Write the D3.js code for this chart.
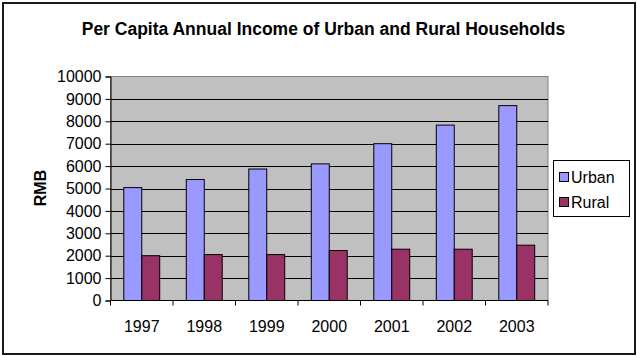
<!DOCTYPE html>
<html>
<head>
<meta charset="utf-8">
<script src="https://cdn.jsdelivr.net/npm/d3@7/dist/d3.min.js"></script>
<style>
  html, body { margin: 0; padding: 0; background: #fff; }
  svg { display: block; font-family: "Liberation Sans", Arial, sans-serif; }
</style>
</head>
<body>
<svg id="chart" width="637" height="356"></svg>
<script>
// Per capita annual income (RMB)
const years = ["1997", "1998", "1999", "2000", "2001", "2002", "2003"];
const seriesNames = ["Urban", "Rural"];
const urban = [5040, 5400, 5870, 6100, 7000, 7830, 8700];
const rural = [2000, 2050, 2050, 2230, 2290, 2290, 2470];
const yTicks = [0, 1000, 2000, 3000, 4000, 5000, 6000, 7000, 8000, 9000, 10000];
const colors = ["#9999ff", "#993366"];

const svg = d3.select("#chart");

// chart frame
svg.append("rect")
  .attr("x", 3).attr("y", 3).attr("width", 632).attr("height", 351)
  .attr("fill", "#fff").attr("stroke", "#1a1a1a").attr("stroke-width", 2);

const plot = { left: 110.5, right: 548, top: 76.5, bottom: 300.5 };

const x = d3.scaleBand().domain(years).range([plot.left, plot.right]).padding(0);
const x1 = d3.scaleBand().domain(seriesNames).range([0, x.bandwidth()])
  .paddingInner(0).paddingOuter(0.74);
const y = d3.scaleLinear().domain([0, 10000]).range([plot.bottom, plot.top]);

// plot area
svg.append("rect")
  .attr("x", plot.left).attr("y", plot.top)
  .attr("width", plot.right - plot.left).attr("height", plot.bottom - plot.top)
  .attr("fill", "#c0c0c0").attr("stroke", "#808080").attr("stroke-width", 1);

// gridlines
svg.append("g").selectAll("line")
  .data(yTicks.filter(d => d > 0 && d < 10000))
  .join("line")
  .attr("x1", plot.left).attr("x2", plot.right)
  .attr("y1", d => Math.round(y(d)) + 0.5).attr("y2", d => Math.round(y(d)) + 0.5)
  .attr("stroke", "#000").attr("stroke-width", 1);

// bars
const rows = years.map((yr, i) => ({ year: yr, values: [urban[i], rural[i]] }));
const groups = svg.append("g").selectAll("g")
  .data(rows).join("g")
  .attr("transform", d => `translate(${x(d.year)},0)`);
groups.selectAll("rect")
  .data(d => d.values.map((v, j) => ({ key: seriesNames[j], value: v, j })))
  .join("rect")
  .attr("x", d => x1(d.key))
  .attr("width", x1.bandwidth())
  .attr("y", d => y(d.value))
  .attr("height", d => y(0) - y(d.value))
  .attr("fill", d => colors[d.j])
  .attr("stroke", "#000").attr("stroke-width", 1);

// value axis
const yAxis = svg.append("g")
  .attr("transform", `translate(${plot.left},0)`)
  .call(d3.axisLeft(y).tickValues(yTicks).tickFormat(d3.format("d")).tickSize(5).tickPadding(4));
yAxis.select(".domain").attr("stroke", "#000");
yAxis.selectAll("text").attr("font-size", 16).attr("fill", "#000")
  .attr("font-family", "'Liberation Sans', Arial, sans-serif");

// category axis
const xAxisG = svg.append("g").attr("transform", `translate(0,${plot.bottom})`);
xAxisG.append("line")
  .attr("x1", plot.left).attr("x2", plot.right)
  .attr("stroke", "#000");
xAxisG.selectAll("line.tick")
  .data(years.map(d => x(d)).concat([plot.right]))
  .join("line").attr("class", "tick")
  .attr("x1", d => d).attr("x2", d => d)
  .attr("y1", 0).attr("y2", 5)
  .attr("stroke", "#000");
xAxisG.selectAll("text")
  .data(years).join("text")
  .attr("x", d => x(d) + x.bandwidth() / 2)
  .attr("y", 31.5)
  .attr("text-anchor", "middle")
  .attr("font-size", 16)
  .text(d => d);

// title
svg.append("text")
  .attr("x", 323.5).attr("y", 35)
  .attr("text-anchor", "middle")
  .attr("font-size", 17.5).attr("font-weight", "bold")
  .text("Per Capita Annual Income of Urban and Rural Households");

// axis title
svg.append("text")
  .attr("transform", "translate(46,188) rotate(-90)")
  .attr("text-anchor", "middle")
  .attr("font-size", 16).attr("font-weight", "bold")
  .text("RMB");

// legend
const legend = svg.append("g").attr("transform", "translate(553,160)");
legend.append("rect")
  .attr("x", 0.5).attr("y", 0.5).attr("width", 76).attr("height", 56)
  .attr("fill", "#fff").attr("stroke", "#000");
const items = legend.selectAll("g.item")
  .data(seriesNames).join("g").attr("class", "item")
  .attr("transform", (d, i) => `translate(0,${i * 25})`);
items.append("rect")
  .attr("x", 6.5).attr("y", 12.5).attr("width", 9).attr("height", 9)
  .attr("fill", (d, i) => colors[i]).attr("stroke", "#000");
items.append("text")
  .attr("x", 18).attr("y", 22.5)
  .attr("font-size", 16)
  .text(d => d);
</script>
</body>
</html>
